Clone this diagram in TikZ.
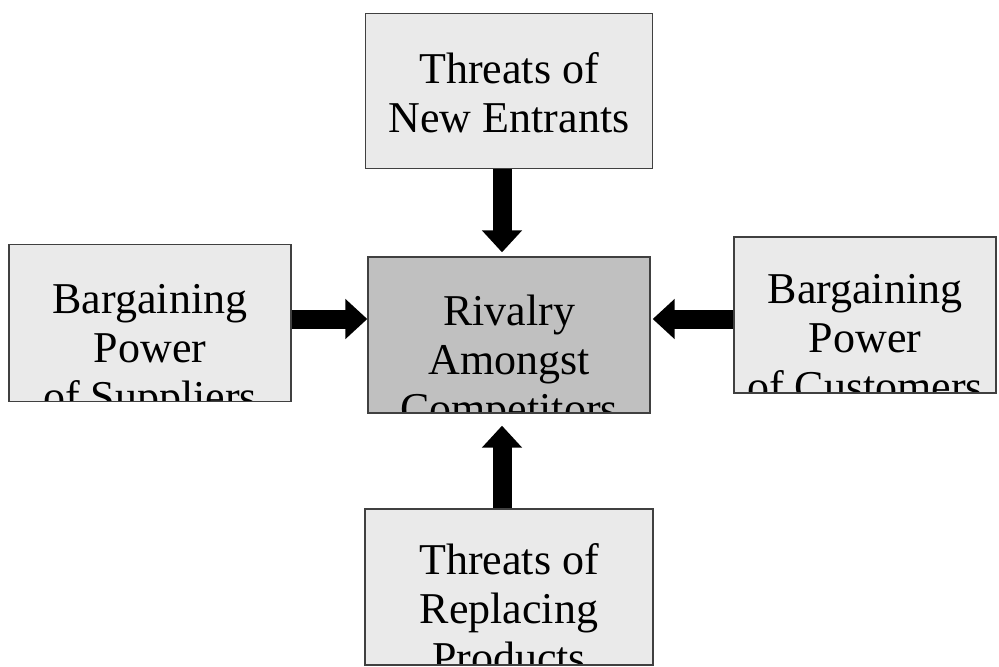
\documentclass[tikz,border=0pt]{standalone}
\usepackage{fontspec}
\setmainfont{Liberation Serif}
\usetikzlibrary{positioning}
\usetikzlibrary{arrows.meta}
\definecolor{boxgray}{HTML}{EAEAEA}
\definecolor{rivalgray}{HTML}{C0C0C0}
\tikzset{
  force/.style={draw=black!75, line width=0.7pt, fill=boxgray, rectangle, inner sep=0pt,
    minimum width=143pt, minimum height=78pt},
  forcetext/.style={anchor=north, align=center, inner sep=0pt,
    font=\fontsize{22}{24.5}\selectfont},
  clipped text/.style 2 args={path picture={
    \node[forcetext] at ([yshift=-#1]path picture bounding box.north) {#2};}},
  push/.style={-{Triangle[length=11pt,width=19.5pt]}, line width=9.5pt}
}
\begin{document}
\begin{tikzpicture}[node distance=2cm,on grid]
   \useasboundingbox (-254.5pt,-165.5pt) rectangle (245pt,167.5pt);
   \node[force, fill=rivalgray, minimum width=141pt,
     clipped text={14pt}{Rivalry\\Amongst\\Competitors}] (rival) at (0,0) {};
   \node[force, minimum width=143.5pt, minimum height=77.5pt,
     clipped text={0.5pt}{Threats of\\New Entrants}] (entr) [above=122pt of rival] {};
   \node[force, minimum width=141pt, minimum height=78.5pt,
     clipped text={14.5pt}{Bargaining\\Power\\of Suppliers}] (supp) [left=179.5pt of rival, yshift=6pt] {};
   \node[force, minimum width=131pt,
     clipped text={11pt}{Bargaining\\Power\\of Customers}] (cust) [right=178pt of rival, yshift=10pt] {};
   \node[force, minimum width=144pt,
     clipped text={10.5pt}{Threats of\\Replacing\\Products}] (repl) [below=126pt of rival] {};

   \draw[push, shorten >=2pt] ([xshift=-3.5pt]entr.south) -- ([xshift=-3.5pt]entr.south |- rival.north);
   \draw[push] ([yshift=2pt]supp.east) -- ([yshift=2pt]supp.east -| rival.west);
   \draw[push, shorten >=1pt] ([yshift=-2pt]cust.west) -- ([yshift=-2pt]cust.west -| rival.east);
   \draw[push, shorten >=6pt] ([xshift=-3.5pt]repl.north) -- ([xshift=-3.5pt]repl.north |- rival.south);
\end{tikzpicture}
\end{document}
